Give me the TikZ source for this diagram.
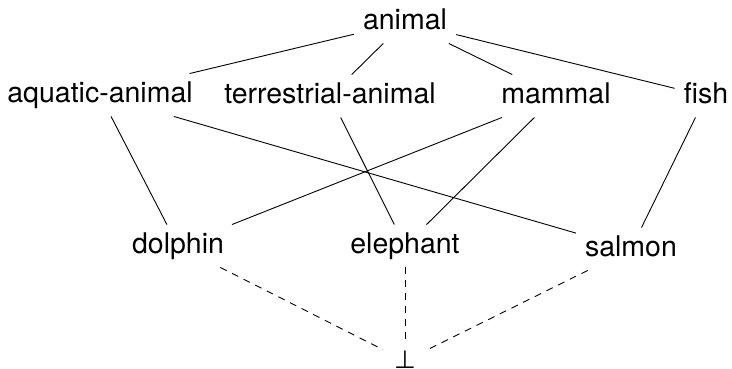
\documentclass[tikz,border=0pt]{standalone}
\usepackage{fontspec}
\setmainfont{TeX Gyre Heros}
\newfontfamily\symfont{DejaVu Sans}
\begin{document}
\begin{tikzpicture}[x=1pt,y=-1pt,
  lbl/.style={inner xsep=9pt, inner ysep=8pt, text height=20.5pt, text depth=6pt,
              font=\fontsize{28.5}{34}\selectfont},
  edge/.style={line width=0.9pt},
  dedge/.style={line width=0.9pt, dash pattern=on 7pt off 6pt}]
\useasboundingbox (0,0) rectangle (732,368);
\node[lbl] (animal) at (405,22) {animal};
\node[lbl] (aquatic) at (100,95) {aquatic-animal};
\node[lbl] (terrestrial) at (330,96) {terrestrial-animal};
\node[lbl] (mammal) at (556,96) {mammal};
\node[lbl] (fish) at (706,96) {fish};
\node[lbl] (dolphin) at (178,246) {dolphin};
\node[lbl] (elephant) at (405,246) {elephant};
\node[lbl] (salmon) at (631,249) {salmon};
\node[lbl, inner xsep=11pt, font=\fontsize{25}{30}\symfont] (bottom) at (405,360.75) {⊥};
\draw[edge] (animal) -- (aquatic);
\draw[edge] (animal) -- (terrestrial);
\draw[edge] (animal) -- (mammal);
\draw[edge] (animal) -- (fish);
\draw[edge] (aquatic) -- (dolphin);
\draw[edge] (aquatic) -- (salmon);
\draw[edge] (terrestrial) -- (elephant);
\draw[edge] (mammal) -- (dolphin);
\draw[edge] (mammal) -- (elephant);
\draw[edge] (fish) -- (salmon);
\draw[dedge] (dolphin) -- (bottom);
\draw[dedge] (elephant) -- (bottom);
\draw[dedge] (salmon) -- (bottom);
\end{tikzpicture}
\end{document}
